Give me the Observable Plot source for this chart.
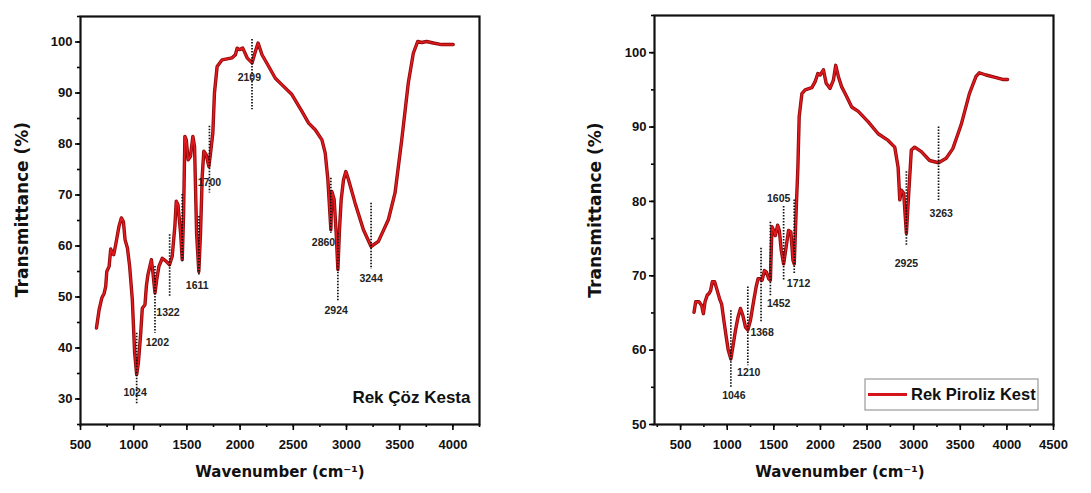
<!DOCTYPE html>
<html><head><meta charset="utf-8">
<script src="https://cdn.jsdelivr.net/npm/d3@7"></script>
<script src="https://cdn.jsdelivr.net/npm/@observablehq/plot@0.6"></script>
<style>
body{margin:0;background:#fff;}
#wrap{display:flex;width:1091px;height:493px;overflow:hidden;}
</style></head><body><div id="wrap"></div>
<script>
// ---- Left panel: Rek Çöz Kesta ----
const cozWave = [650,675,700,722,737,747,769,784,800,812,831,862,884,903,919,941,962,987,1009,1028,1044,1066,1081,1106,1119,1134,1166,1181,1200,1216,1237,1269,1306,1337,1362,1387,1400,1416,1441,1456,1469,1481,1494,1512,1534,1556,1572,1591,1612,1628,1644,1659,1681,1706,1722,1744,1759,1784,1831,1925,1956,1972,1994,2025,2066,2112,2144,2169,2206,2269,2331,2394,2487,2581,2644,2706,2769,2800,2825,2853,2862,2884,2903,2919,2934,2950,2972,2994,3019,3081,3159,3231,3300,3394,3456,3519,3581,3628,3669,3706,3753,3816,3894,4003];
const cozT = [43.9,47.5,49.8,50.7,52.1,55.0,56.0,59.4,58.6,58.3,60.3,63.9,65.5,64.8,61.2,59.6,56.0,49.5,39.0,34.8,37.1,42.9,47.8,48.5,52.1,54.4,57.3,54.7,50.8,53.4,56.0,57.6,57.0,56.3,58.0,63.9,68.8,68.1,62.5,57.3,66.5,81.5,80.8,76.9,77.6,81.5,79.5,62.5,55.0,62.5,73.7,78.6,77.9,75.6,78.2,82.2,90.0,95.2,96.5,96.9,97.5,98.8,98.5,98.8,96.9,95.9,98.2,99.8,97.5,95.2,92.9,91.6,89.7,86.4,84.1,82.8,80.8,78.2,73.0,63.2,70.7,69.1,62.5,55.4,63.2,69.1,73.0,74.6,73.0,68.4,63.2,59.9,60.9,65.2,70.4,80.8,92.0,97.8,100.1,99.9,100.1,99.8,99.5,99.5];
const cozPeakLabel = ["1024","1202","1322","","1611","1700","2109","2860","2924","3244"];
const cozPeakWave = [1028,1200,1338,1456,1613,1712,2112,2853,2919,3231];
const cozLineTop = [42.9,56.0,62.2,70.1,65.8,83.5,100.5,73.3,62.5,68.4];
const cozLineBottom = [28.9,42.9,50.1,57.0,54.1,70.4,86.7,62.5,49.2,55.4];
const cozLabelWave = [1013,1222,1322,null,1597,1712,2087,2784,2903,3231];
const cozLabelT = [31.3,41.1,46.9,null,52.2,72.4,93.1,60.7,47.3,53.7];
const cozName = "Rek Çöz Kesta";
const cozXTicks = [500,1000,1500,2000,2500,3000,3500,4000];
const cozYTicks = [30,40,50,60,70,80,90,100];

// ---- Right panel: Rek Piroliz Kest ----
const piroWave = [644,662,697,726,744,762,786,804,822,840,865,893,918,940,964,989,1011,1039,1060,1089,1117,1142,1167,1196,1221,1249,1285,1310,1331,1356,1374,1399,1420,1445,1463,1480,1498,1516,1541,1559,1580,1605,1630,1658,1683,1705,1719,1737,1758,1772,1801,1836,1908,1943,1972,1997,2032,2061,2103,2139,2164,2192,2228,2281,2335,2406,2513,2619,2726,2797,2833,2851,2869,2893,2922,2947,2975,3011,3082,3171,3267,3349,3420,3509,3598,3669,3704,3776,3865,3954,4007];
const piroT = [65.1,66.5,66.5,66.0,64.9,66.5,67.4,67.6,68.0,69.2,69.2,68.0,66.9,66.2,64.0,61.8,60.0,58.8,60.4,62.7,64.5,65.6,64.7,63.1,62.7,64.0,66.7,68.5,69.6,69.6,69.4,70.7,70.5,69.6,69.4,76.6,76.1,75.4,76.8,76.1,73.4,71.6,73.7,76.1,75.9,72.1,71.6,77.9,84.6,91.4,94.5,95.0,95.3,96.1,97.2,97.0,97.7,95.9,95.2,96.3,98.3,96.8,95.4,94.1,92.7,92.1,90.7,89.1,88.2,87.3,84.6,80.2,81.5,81.1,75.7,81.1,86.9,87.3,86.7,85.5,85.2,85.8,87.1,90.3,94.5,96.8,97.3,97.0,96.7,96.4,96.4];
const piroPeakLabel = ["1046","1210","1368","1452","1605","1712","2925","3263"];
const piroPeakWave = [1039,1221,1363,1463,1605,1719,2922,3267];
const piroLineTop = [65.3,68.5,73.7,77.2,79.3,80.2,84.0,90.0];
const piroLineBottom = [55.0,57.9,63.8,67.1,69.4,70.3,73.9,80.0];
const piroLabelWave = [1071,1231,1374,1552,1552,1765,2922,3296];
const piroLabelT = [53.9,57.0,62.3,66.2,80.4,68.9,71.6,78.4];
const piroName = "Rek Piroliz Kest";
const piroXTicks = [500,1000,1500,2000,2500,3000,3500,4000,4500];
const piroYTicks = [50,60,70,80,90,100];

const xTitle = "Wavenumber (cm⁻¹)";
const yTitle = "Transmittance (%)";

function minorTicks(lo, hi, step) { return d3.range(Math.ceil(lo/step)*step, hi + 1e-9, step); }

function legendMark(name) {
  return (index, scales, values, dim) => {
    const right = dim.width - dim.marginRight - 15;
    const left = dim.width - dim.marginRight - 188;
    const bottom = dim.height - dim.marginBottom - 14;
    const top = bottom - 31;
    const mid = (top + bottom) / 2;
    const g = d3.create("svg:g");
    g.append("rect").attr("x", left).attr("y", top).attr("width", right - left).attr("height", bottom - top)
      .attr("fill", "white").attr("stroke", "#9a9a9a").attr("stroke-width", 1.2);
    g.append("line").attr("x1", left + 3).attr("x2", left + 42).attr("y1", mid).attr("y2", mid)
      .attr("stroke", "#d4141a").attr("stroke-width", 3);
    g.append("text").attr("x", left + 46).attr("y", mid).attr("dy", "0.36em").attr("text-anchor", "start")
      .attr("font-family", "'Liberation Sans',Arial,sans-serif").attr("font-weight", "bold")
      .attr("font-size", 16.5).attr("fill", "#111").text(name);
    return g.node();
  };
}

function spectrum(o) {
  const data = o.wave.map((w, i) => ({w, t: o.T[i]}));
  const peaks = o.peakWave.map((w, i) => ({w, top: o.lineTop[i], bottom: o.lineBottom[i]}));
  const labels = o.peakLabel.map((s, i) => ({s, w: o.labelWave[i], t: o.labelT[i]})).filter(d => d.s);
  const tickFont = {fontSize: 13, fontWeight: "bold", fill: "#111"};
  const marks = [
    Plot.line(data, {x: "w", y: "t", stroke: "#8c0a0c", strokeWidth: 3.4, curve: "linear"}),
    Plot.line(data, {x: "w", y: "t", stroke: "#e3191d", strokeWidth: 1.7, curve: "linear"}),
    Plot.ruleX(peaks, {x: "w", y1: "top", y2: "bottom", stroke: "#111", strokeWidth: 1.7, strokeDasharray: "1.5,1.5"}),
    Plot.text(labels, {x: "w", y: "t", text: "s", fontSize: 10.5, fontWeight: "bold", fill: "#222"}),
    Plot.axisX(minorTicks(o.xDomain[0], o.xDomain[1], 250), {tickSize: 3, tickFormat: () => "", strokeWidth: 1.6, label: null}),
    Plot.axisX(o.xTicks, {tickSize: 6, tickPadding: 9, tickFormat: d => `${d}`, strokeWidth: 1.6, label: null, ...tickFont}),
    Plot.axisY(minorTicks(o.yDomain[0], o.yDomain[1], 5), {tickSize: 3, tickFormat: () => "", strokeWidth: 1.6, label: null}),
    Plot.axisY(o.yTicks, {tickSize: 5, tickPadding: 3, tickFormat: d => `${d}`, strokeWidth: 1.6, label: null, ...tickFont}),
    Plot.frame({stroke: "#111", strokeWidth: 2.2}),
    Plot.text([xTitle], {frameAnchor: "bottom", textAnchor: "middle", dx: o.xTitleDx, dy: 52, fontSize: 15, fontWeight: "bold", fontFamily: "'DejaVu Sans',sans-serif", fill: "#111"}),
    Plot.text([yTitle], {frameAnchor: "left", textAnchor: "middle", rotate: -90, dx: o.yTitleDx, dy: o.yTitleDy, fontSize: 17, fontWeight: "bold", fontFamily: "'DejaVu Sans',sans-serif", fill: "#111"})
  ];
  if (o.legend) marks.push(legendMark(o.name));
  else marks.push(Plot.text([o.name], {frameAnchor: "bottom-right", textAnchor: "end", dx: -9, dy: -22, fontSize: 17, fontWeight: "bold", fontFamily: "'Liberation Sans',Arial,sans-serif", fill: "#111"}));
  return Plot.plot({
    width: o.width, height: 493,
    marginLeft: o.margins[0], marginRight: o.margins[1], marginTop: o.margins[2], marginBottom: o.margins[3],
    x: {domain: o.xDomain, label: null},
    y: {domain: o.yDomain, label: null},
    style: {fontFamily: "'Liberation Sans',Arial,sans-serif", background: "white", overflow: "visible"},
    marks
  });
}

const wrap = document.getElementById("wrap");
wrap.append(spectrum({
  wave: cozWave, T: cozT, peakLabel: cozPeakLabel, peakWave: cozPeakWave, lineTop: cozLineTop, lineBottom: cozLineBottom,
  labelWave: cozLabelWave, labelT: cozLabelT, name: cozName, xTicks: cozXTicks, yTicks: cozYTicks,
  xDomain: [500, 4250], yDomain: [25, 105], width: 545, margins: [80, 66, 16, 69],
  xTitleDx: 0, yTitleDx: -58, yTitleDy: -11, legend: false
}));
wrap.append(spectrum({
  wave: piroWave, T: piroT, peakLabel: piroPeakLabel, peakWave: piroPeakWave, lineTop: piroLineTop, lineBottom: piroLineBottom,
  labelWave: piroLabelWave, labelT: piroLabelT, name: piroName, xTicks: piroXTicks, yTicks: piroYTicks,
  xDomain: [220, 4500], yDomain: [50, 105], width: 546, margins: [109, 38, 15, 69],
  xTitleDx: -14, yTitleDx: -59, yTitleDy: -10, legend: true
}));
</script></body></html>
